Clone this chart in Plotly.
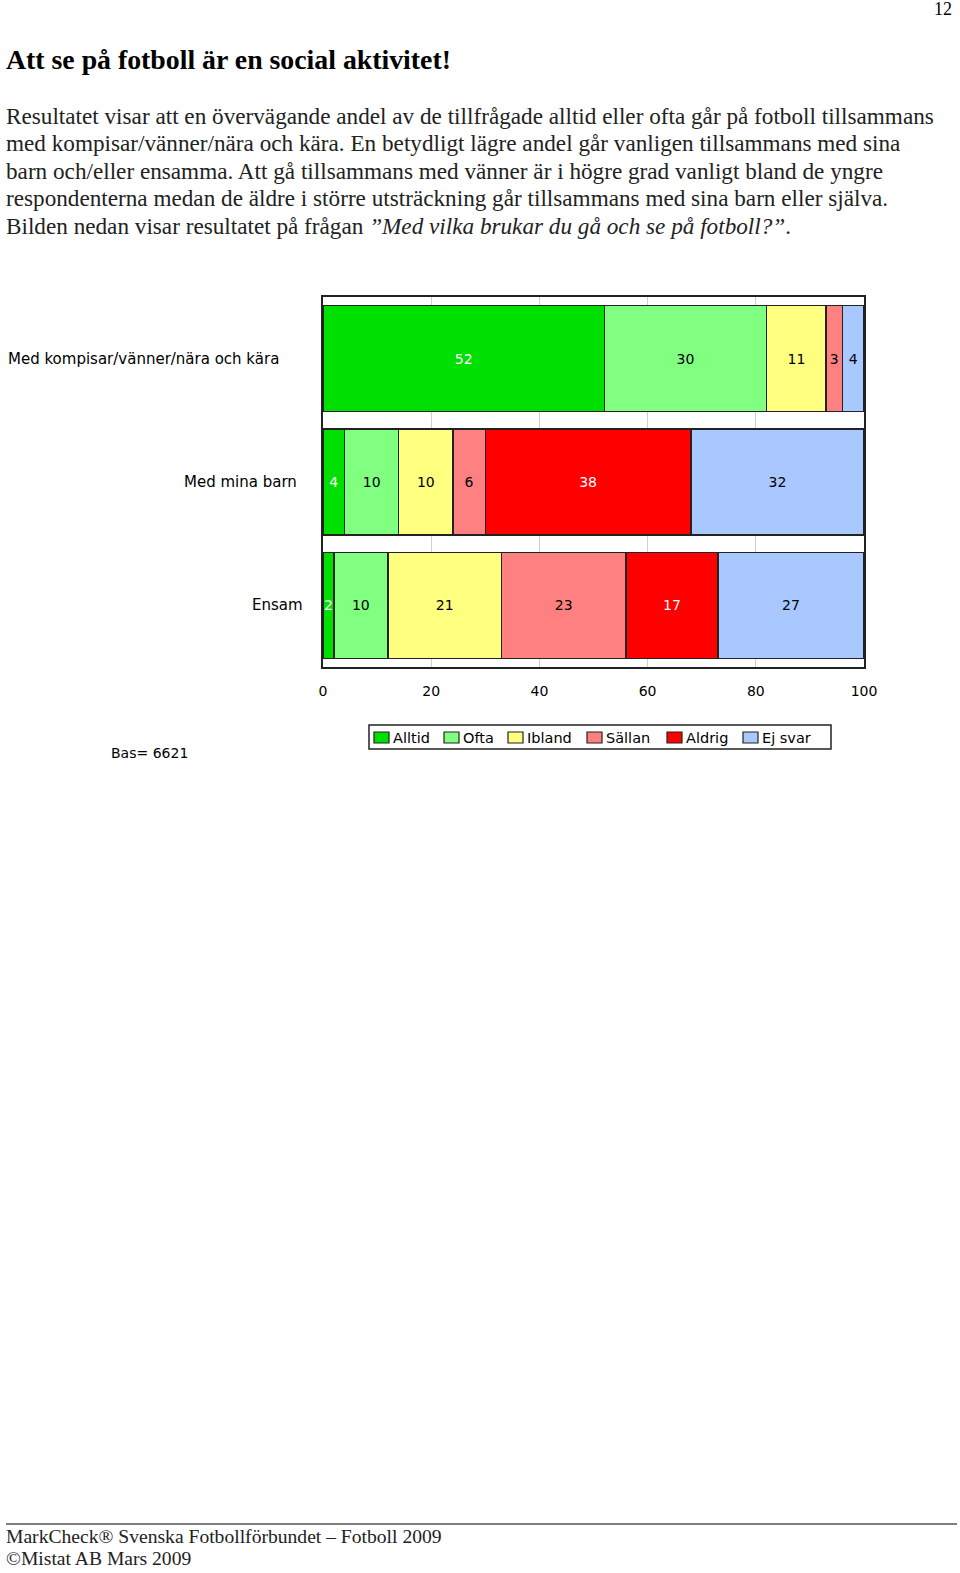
import plotly.graph_objects as go

categories = ['Med kompisar/vänner/nära och kära', 'Med mina barn', 'Ensam']
series_names = ['Alltid', 'Ofta', 'Ibland', 'Sällan', 'Aldrig', 'Ej svar']
values = {
    'Alltid': [52, 4, 2],
    'Ofta': [30, 10, 10],
    'Ibland': [11, 10, 21],
    'Sällan': [3, 6, 23],
    'Aldrig': [0, 38, 17],
    'Ej svar': [4, 32, 27],
}
x_ticks = [0, 20, 40, 60, 80, 100]
base_text = 'Bas= 6621'

colors = {
    'Alltid': '#00E000',
    'Ofta': '#80FF80',
    'Ibland': '#FFFF80',
    'Sällan': '#FF8080',
    'Aldrig': '#FF0000',
    'Ej svar': '#A8C8FF',
}
text_colors = {
    'Alltid': 'white', 'Ofta': 'black', 'Ibland': 'black',
    'Sällan': 'black', 'Aldrig': 'white', 'Ej svar': 'black',
}

W, H = 960, 1573
SANS = 'DejaVu Sans, Verdana, sans-serif'
SERIF = 'Liberation Serif, Times New Roman, serif'


def px_x(px):
    return px / W


def px_y(px):
    # pixel from top -> paper coordinate
    return 1 - px / H


fig = go.Figure()
for name in series_names:
    vals = values[name]
    fig.add_trace(go.Bar(
        y=categories,
        x=vals,
        name=name,
        orientation='h',
        text=[str(v) if v > 0 else '' for v in vals],
        textposition='inside',
        insidetextanchor='middle',
        textangle=0,
        textfont=dict(family=SANS, size=14, color=text_colors[name]),
        marker=dict(color=colors[name], line=dict(color='#222222', width=1.5)),
        cliponaxis=False,
        showlegend=False,
    ))

annotations = []
shapes = []

# page number
annotations.append(dict(x=px_x(954), y=px_y(9), xref='paper', yref='paper', text='12',
                        showarrow=False, xanchor='right', yanchor='middle',
                        font=dict(family=SERIF, size=18, color='black')))
# title
annotations.append(dict(x=px_x(4), y=px_y(59), xref='paper', yref='paper',
                        text='<b>Att se på fotboll är en social aktivitet!</b>',
                        showarrow=False, xanchor='left', yanchor='middle',
                        font=dict(family=SERIF, size=27.8, color='black')))
# paragraph
lines = [
    'Resultatet visar att en övervägande andel av de tillfrågade alltid eller ofta går på fotboll tillsammans',
    'med kompisar/vänner/nära och kära. En betydligt lägre andel går vanligen tillsammans med sina',
    'barn och/eller ensamma. Att gå tillsammans med vänner är i högre grad vanligt bland de yngre',
    'respondenterna medan de äldre i större utsträckning går tillsammans med sina barn eller själva.',
    'Bilden nedan visar resultatet på frågan <i>”Med vilka brukar du gå och se på fotboll?”</i>.',
]
for i, line in enumerate(lines):
    annotations.append(dict(x=px_x(4), y=px_y(116 + i * 27.5), xref='paper', yref='paper',
                            text=line, showarrow=False, xanchor='left', yanchor='middle',
                            font=dict(family=SERIF, size=23.2, color='#222222')))

# category labels
label_right = [281, 299, 305]
for cat, xr in zip(categories, label_right):
    annotations.append(dict(x=px_x(xr), y=cat, xref='paper', yref='y', text=cat,
                            showarrow=False, xanchor='right', yanchor='middle',
                            font=dict(family=SANS, size=15, color='black')))

# base
annotations.append(dict(x=px_x(109), y=px_y(753), xref='paper', yref='paper', text=base_text,
                        showarrow=False, xanchor='left', yanchor='middle',
                        font=dict(family=SANS, size=14, color='black')))

# legend box drawn by hand to match the original compact legend
shapes.append(dict(type='rect', xref='paper', yref='paper',
                   x0=px_x(369), x1=px_x(831), y0=px_y(725), y1=px_y(749),
                   line=dict(color='#222222', width=1.5), fillcolor='white', layer='below'))
legend_x = [374, 444, 508, 587, 667, 743]
for name, lx in zip(series_names, legend_x):
    shapes.append(dict(type='rect', xref='paper', yref='paper',
                       x0=px_x(lx), x1=px_x(lx + 15), y0=px_y(732), y1=px_y(743),
                       line=dict(color='#222222', width=1.2), fillcolor=colors[name]))
    annotations.append(dict(x=px_x(lx + 17), y=px_y(738), xref='paper', yref='paper',
                            text=name, showarrow=False, xanchor='left', yanchor='middle',
                            font=dict(family=SANS, size=14.5, color='black')))

# footer
annotations.append(dict(x=px_x(4), y=px_y(1536), xref='paper', yref='paper',
                        text='MarkCheck® Svenska Fotbollförbundet – Fotboll 2009',
                        showarrow=False, xanchor='left', yanchor='middle',
                        font=dict(family=SERIF, size=19.6, color='#222222')))
annotations.append(dict(x=px_x(4), y=px_y(1558), xref='paper', yref='paper',
                        text='©Mistat AB Mars 2009',
                        showarrow=False, xanchor='left', yanchor='middle',
                        font=dict(family=SERIF, size=19.6, color='#222222')))

shapes.append(dict(type='line', xref='paper', yref='paper', x0=px_x(6), x1=px_x(957),
                   y0=px_y(1524), y1=px_y(1524), line=dict(color='#555555', width=1.5)))

fig.update_layout(
    width=W, height=H,
    margin=dict(l=0, r=0, t=0, b=0),
    paper_bgcolor='white', plot_bgcolor='white',
    barmode='stack',
    bargap=0.14,
    showlegend=False,
    uniformtext=dict(minsize=14, mode='show'),
    xaxis=dict(
        domain=[px_x(323), px_x(864)], range=[0, 100],
        tickmode='array', tickvals=x_ticks, ticktext=[str(t) for t in x_ticks],
        tickfont=dict(family=SANS, size=14, color='black'),
        showgrid=True, gridcolor='#cfcfcf', gridwidth=1,
        showline=True, linecolor='#222222', linewidth=1.5, mirror=True,
        zeroline=False, ticks='', ticklabelstandoff=10, automargin=False,
    ),
    yaxis=dict(
        domain=[px_y(667), px_y(297)], autorange='reversed',
        showticklabels=False, showgrid=False,
        showline=True, linecolor='#222222', linewidth=1.5, mirror=True,
        ticks='', automargin=False,
    ),
    annotations=annotations,
    shapes=shapes,
)

fig.write_html(
    'out.html',
    config={'displayModeBar': False, 'responsive': False},
    post_script="document.body.style.margin='0';document.body.style.overflow='hidden';",
)
